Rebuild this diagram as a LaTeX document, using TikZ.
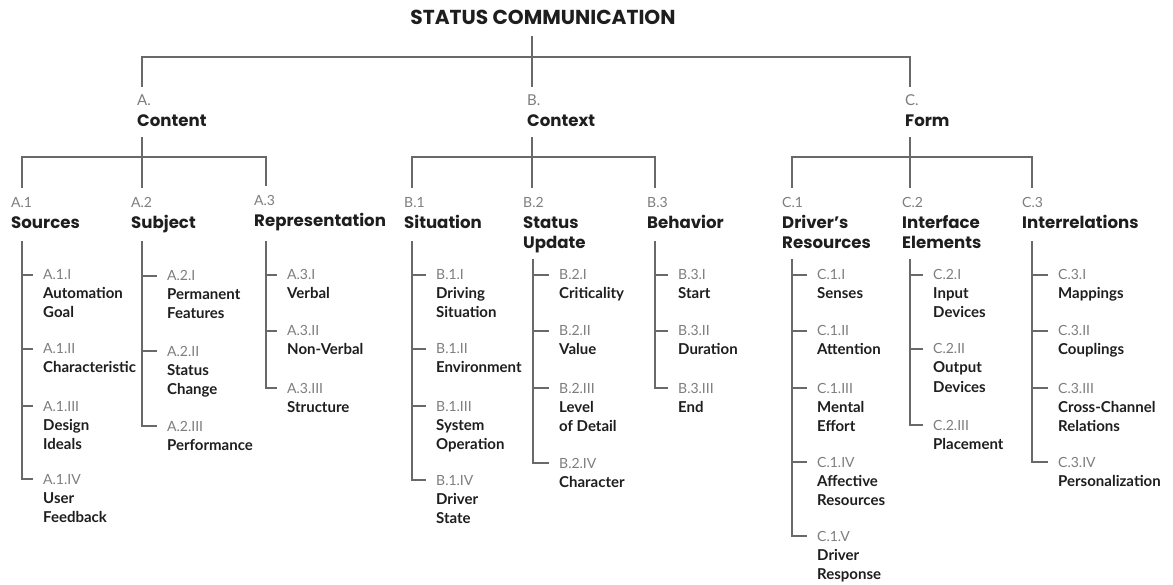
\documentclass[tikz,border=0pt]{standalone}
\usepackage{fontspec}
\setmainfont{Lato}
\newfontfamily\headfont{Poppins}
\definecolor{linegray}{RGB}{105,105,105}
\definecolor{codegray}{RGB}{125,125,125}
\definecolor{inkblack}{RGB}{30,30,30}

\begin{document}
\begin{tikzpicture}[x=1pt, y=-1pt,
  link/.style={draw=linegray, line width=1.2pt},
  code/.style={anchor=base west, inner sep=0pt, text depth=0pt, text=codegray, font=\fontsize{14}{16}\selectfont},
  bigcode/.style={code, font=\fontsize{15}{17}\selectfont},
  leaf/.style={anchor=base west, inner sep=0pt, text=inkblack, font=\bfseries\fontsize{15}{19}\selectfont},
  head/.style={anchor=base west, inner sep=0pt, text depth=0pt, text=inkblack, font=\headfont\bfseries\fontsize{16.6}{20}\selectfont},
  title/.style={anchor=base, inner sep=0pt, text depth=0pt, text=inkblack, font=\headfont\bfseries\fontsize{20.2}{22}\selectfont}]
\useasboundingbox (0,0) rectangle (1173,585);

% junctions
\coordinate (top) at (532,57);
\coordinate (a) at (142,157);
\coordinate (b) at (532,157);
\coordinate (c) at (910,157);
\coordinate (a1) at (22,157);
\coordinate (a2) at (142,157);
\coordinate (a3) at (266,157);
\coordinate (b1) at (412,157);
\coordinate (b2) at (533,157);
\coordinate (b3) at (655,157);
\coordinate (c1) at (792,157);
\coordinate (c2) at (910,157);
\coordinate (c3) at (1032,157);

\node[title] (root) at (543,25) {STATUS COMMUNICATION};

\node[bigcode] (A) at (137,106) {A.};
\node[head] (Ahd) at (137,126.5) {Content};
\node[bigcode] (B) at (527,106) {B.};
\node[head] (Bhd) at (527,126.5) {Context};
\node[bigcode] (C) at (905,106) {C.};
\node[head] (Chd) at (905,126.5) {Form};

% second level
\node[code] (A1) at (11,208) {A.1};
\node[head] (A1hd) at (11,229) {Sources};
\node[code] (A2) at (131,208) {A.2};
\node[head] (A2hd) at (131,229) {Subject};
\node[code] (A3) at (254,206) {A.3};
\node[head] (A3hd) at (254,227) {Representation};
\node[code] (B1) at (404,208) {B.1};
\node[head] (B1hd) at (404,229) {Situation};
\node[code] (B2) at (523,208) {B.2};
\node[head] (B2hd) at (523,229) {Status};
\node[head] (B2hdb) at (523,249) {Update};
\node[code] (B3) at (647,208) {B.3};
\node[head] (B3hd) at (647,229) {Behavior};
\node[code] (C1) at (782,208) {C.1};
\node[head] (C1hd) at (782,229) {Driver’s};
\node[head] (C1hdb) at (782,249) {Resources};
\node[code] (C2) at (902,208) {C.2};
\node[head] (C2hd) at (902,229) {Interface};
\node[head] (C2hdb) at (902,249) {Elements};
\node[code] (C3) at (1022,208) {C.3};
\node[head] (C3hd) at (1022,229) {Interrelations};

% A.1
\node[code] (A11) at (43,280) {A.1.I};
\node[leaf] (A11a) at (43,299) {Automation};
\node[leaf] (A11b) at (43,318) {Goal};
\node[code] (A12) at (43,354) {A.1.II};
\node[leaf] (A12a) at (43,373) {Characteristic};
\node[code] (A13) at (43,411) {A.1.III};
\node[leaf] (A13a) at (43,430) {Design};
\node[leaf] (A13b) at (43,449) {Ideals};
\node[code] (A14) at (43,484) {A.1.IV};
\node[leaf] (A14a) at (43,503) {User};
\node[leaf] (A14b) at (43,522) {Feedback};
% A.2
\node[code] (A21) at (167,281) {A.2.I};
\node[leaf] (A21a) at (167,300) {Permanent};
\node[leaf] (A21b) at (167,319) {Features};
\node[code] (A22) at (167,356) {A.2.II};
\node[leaf] (A22a) at (167,375) {Status};
\node[leaf] (A22b) at (167,394) {Change};
\node[code] (A23) at (167,431) {A.2.III};
\node[leaf] (A23a) at (167,450) {Performance};
% A.3
\node[code] (A31) at (287,280) {A.3.I};
\node[leaf] (A31a) at (287,299) {Verbal};
\node[code] (A32) at (287,336) {A.3.II};
\node[leaf] (A32a) at (287,355) {Non-Verbal};
\node[code] (A33) at (287,393) {A.3.III};
\node[leaf] (A33a) at (287,412) {Structure};
% B.1
\node[code] (B11) at (436,280) {B.1.I};
\node[leaf] (B11a) at (436,299) {Driving};
\node[leaf] (B11b) at (436,318) {Situation};
\node[code] (B12) at (436,354) {B.1.II};
\node[leaf] (B12a) at (436,373) {Environment};
\node[code] (B13) at (436,411) {B.1.III};
\node[leaf] (B13a) at (436,430) {System};
\node[leaf] (B13b) at (436,449) {Operation};
\node[code] (B14) at (436,485) {B.1.IV};
\node[leaf] (B14a) at (436,504) {Driver};
\node[leaf] (B14b) at (436,523) {State};
% B.2
\node[code] (B21) at (559,280) {B.2.I};
\node[leaf] (B21a) at (559,299) {Criticality};
\node[code] (B22) at (559,336) {B.2.II};
\node[leaf] (B22a) at (559,355) {Value};
\node[code] (B23) at (559,393) {B.2.III};
\node[leaf] (B23a) at (559,412) {Level};
\node[leaf] (B23b) at (559,431) {of Detail};
\node[code] (B24) at (559,468) {B.2.IV};
\node[leaf] (B24a) at (559,487) {Character};
% B.3
\node[code] (B31) at (678,280) {B.3.I};
\node[leaf] (B31a) at (678,299) {Start};
\node[code] (B32) at (678,336) {B.3.II};
\node[leaf] (B32a) at (678,355) {Duration};
\node[code] (B33) at (678,393) {B.3.III};
\node[leaf] (B33a) at (678,412) {End};
% C.1
\node[code] (C11) at (817,280) {C.1.I};
\node[leaf] (C11a) at (817,299) {Senses};
\node[code] (C12) at (817,336) {C.1.II};
\node[leaf] (C12a) at (817,355) {Attention};
\node[code] (C13) at (817,393) {C.1.III};
\node[leaf] (C13a) at (817,412) {Mental};
\node[leaf] (C13b) at (817,431) {Effort};
\node[code] (C14) at (817,467) {C.1.IV};
\node[leaf] (C14a) at (817,486) {Affective};
\node[leaf] (C14b) at (817,505) {Resources};
\node[code] (C15) at (817,541) {C.1.V};
\node[leaf] (C15a) at (817,560) {Driver};
\node[leaf] (C15b) at (817,579) {Response};
% C.2
\node[code] (C21) at (933,280) {C.2.I};
\node[leaf] (C21a) at (933,299) {Input};
\node[leaf] (C21b) at (933,318) {Devices};
\node[code] (C22) at (933,354) {C.2.II};
\node[leaf] (C22a) at (933,373) {Output};
\node[leaf] (C22b) at (933,392) {Devices};
\node[code] (C23) at (933,430) {C.2.III};
\node[leaf] (C23a) at (933,449) {Placement};
% C.3
\node[code] (C31) at (1058,280) {C.3.I};
\node[leaf] (C31a) at (1058,299) {Mappings};
\node[code] (C32) at (1058,336) {C.3.II};
\node[leaf] (C32a) at (1058,355) {Couplings};
\node[code] (C33) at (1058,393) {C.3.III};
\node[leaf] (C33a) at (1058,412) {Cross-Channel};
\node[leaf] (C33b) at (1058,431) {Relations};
\node[code] (C34) at (1058,467) {C.3.IV};
\node[leaf] (C34a) at (1058,486) {Personalization};

% top level connectors
\draw[link, shorten <=11pt, shorten >=8pt] (root.south -| top) -- (B.north -| b);
\draw[link, shorten <=8pt, shorten >=8pt] (A.north -| a) |- (top) -| (C.north -| c);

% second level connectors
\draw[link, shorten <=10.5pt, shorten >=10pt] (Ahd.south -| a) -- (A2.north -| a);
\draw[link, shorten <=10pt, shorten >=10pt] (A1.north -| a1) |- (a) -| (A3.north -| a3);
\draw[link, shorten <=10.5pt, shorten >=10pt] (Bhd.south -| b) -- (B2.north -| b);
\draw[link, shorten <=10pt, shorten >=10pt] (B1.north -| b1) |- (b) -| (B3.north -| b3);
\draw[link, shorten <=10.5pt, shorten >=10pt] (Chd.south -| c) -- (C2.north -| c);
\draw[link, shorten <=10pt, shorten >=10pt] (C1.north -| c1) |- (c) -| (C3.north -| c3);

% stems
\draw[link, shorten <=12pt, shorten >=10pt] (A1hd.south -| a1) |- (A14.west);
\draw[link, shorten >=10pt] (a1 |- A11.west) -- (A11.west);
\draw[link, shorten >=10pt] (a1 |- A12.west) -- (A12.west);
\draw[link, shorten >=10pt] (a1 |- A13.west) -- (A13.west);

\draw[link, shorten <=12pt, shorten >=10pt] (A2hd.south -| a2) |- (A23.west);
\draw[link, shorten >=10pt] (a2 |- A21.west) -- (A21.west);
\draw[link, shorten >=10pt] (a2 |- A22.west) -- (A22.west);

\draw[link, shorten <=14pt, shorten >=10pt] (A3hd.south -| a3) |- (A33.west);
\draw[link, shorten >=10pt] (a3 |- A31.west) -- (A31.west);
\draw[link, shorten >=10pt] (a3 |- A32.west) -- (A32.west);

\draw[link, shorten <=12pt, shorten >=10pt] (B1hd.south -| b1) |- (B14.west);
\draw[link, shorten >=10pt] (b1 |- B11.west) -- (B11.west);
\draw[link, shorten >=10pt] (b1 |- B12.west) -- (B12.west);
\draw[link, shorten >=10pt] (b1 |- B13.west) -- (B13.west);

\draw[link, shorten <=10pt, shorten >=10pt] (B2hdb.south -| b2) |- (B24.west);
\draw[link, shorten >=10pt] (b2 |- B21.west) -- (B21.west);
\draw[link, shorten >=10pt] (b2 |- B22.west) -- (B22.west);
\draw[link, shorten >=10pt] (b2 |- B23.west) -- (B23.west);

\draw[link, shorten <=12pt, shorten >=10pt] (B3hd.south -| b3) |- (B33.west);
\draw[link, shorten >=10pt] (b3 |- B31.west) -- (B31.west);
\draw[link, shorten >=10pt] (b3 |- B32.west) -- (B32.west);

\draw[link, shorten <=10pt, shorten >=10pt] (C1hdb.south -| c1) |- (C15.west);
\draw[link, shorten >=10pt] (c1 |- C11.west) -- (C11.west);
\draw[link, shorten >=10pt] (c1 |- C12.west) -- (C12.west);
\draw[link, shorten >=10pt] (c1 |- C13.west) -- (C13.west);
\draw[link, shorten >=10pt] (c1 |- C14.west) -- (C14.west);

\draw[link, shorten <=10pt, shorten >=10pt] (C2hdb.south -| c2) |- (C23.west);
\draw[link, shorten >=10pt] (c2 |- C21.west) -- (C21.west);
\draw[link, shorten >=10pt] (c2 |- C22.west) -- (C22.west);

\draw[link, shorten <=12pt, shorten >=10pt] (C3hd.south -| c3) |- (C34.west);
\draw[link, shorten >=10pt] (c3 |- C31.west) -- (C31.west);
\draw[link, shorten >=10pt] (c3 |- C32.west) -- (C32.west);
\draw[link, shorten >=10pt] (c3 |- C33.west) -- (C33.west);
\end{tikzpicture}
\end{document}
